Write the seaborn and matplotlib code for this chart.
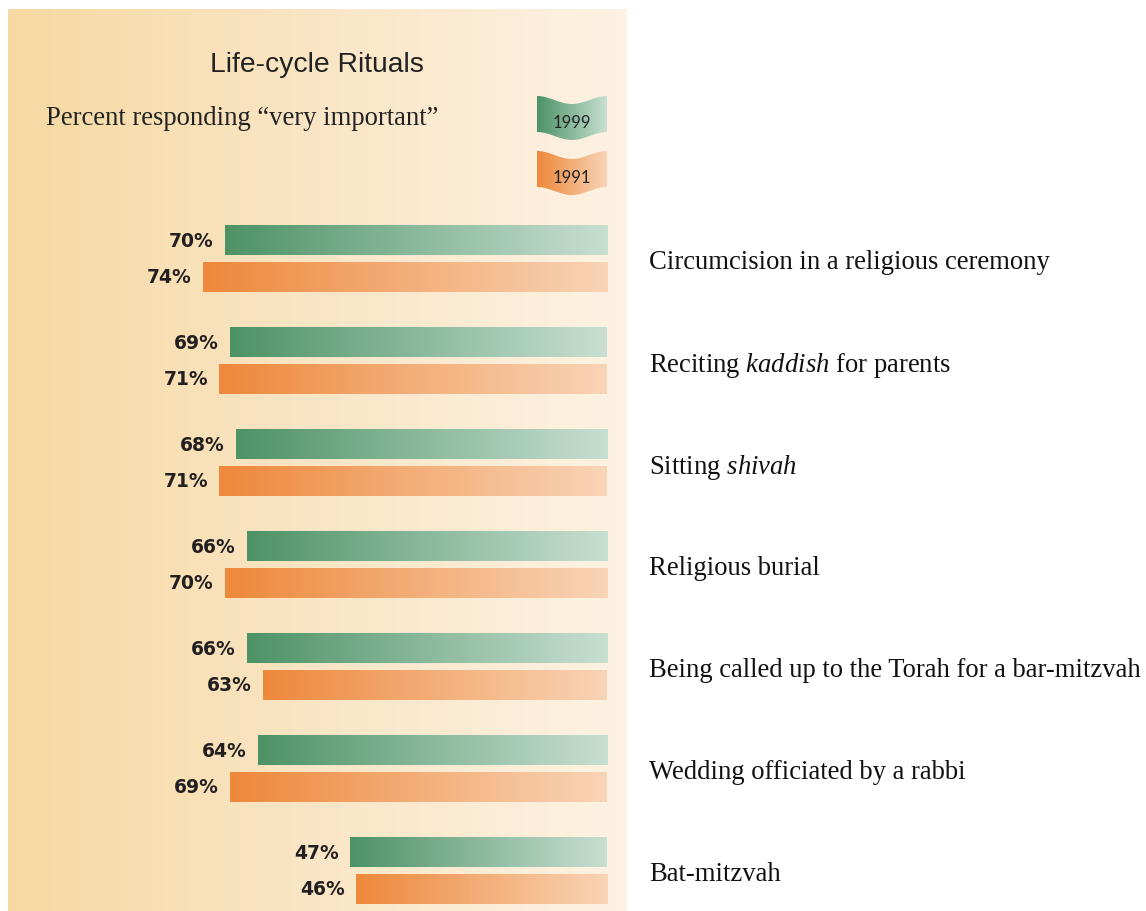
import numpy as np
import pandas as pd
import matplotlib.pyplot as plt
import seaborn as sns
from matplotlib.colors import LinearSegmentedColormap
from matplotlib.patches import Polygon

# data
rituals = ["Circumcision in a religious ceremony",
           "Reciting kaddish for parents",
           "Sitting shivah",
           "Religious burial",
           "Being called up to the Torah for a bar-mitzvah",
           "Wedding officiated by a rabbi",
           "Bat-mitzvah"]
ritual_labels = ["Circumcision in a religious ceremony",
                 r"Reciting $\mathit{kaddish}$ for parents",
                 r"Sitting $\mathit{shivah}$",
                 "Religious burial",
                 "Being called up to the Torah for a bar-mitzvah",
                 "Wedding officiated by a rabbi",
                 "Bat-mitzvah"]
pct_1999 = [70, 69, 68, 66, 66, 64, 47]
pct_1991 = [74, 71, 71, 70, 63, 69, 46]
years = ["1999", "1991"]

df = pd.DataFrame({
    "ritual": rituals * 2,
    "year": [years[0]] * len(rituals) + [years[1]] * len(rituals),
    "percent": pct_1999 + pct_1991,
})

sns.set_style("white")
plt.rcParams["mathtext.fontset"] = "custom"
plt.rcParams["mathtext.rm"] = "Liberation Serif"
plt.rcParams["mathtext.it"] = "Liberation Serif:italic"

green_cmap = LinearSegmentedColormap.from_list("g", ["#4d9366", "#c8dfd1"])
orange_cmap = LinearSegmentedColormap.from_list("o", ["#ee883b", "#f9d4b6"])
bg_cmap = LinearSegmentedColormap.from_list("bg", ["#f6d9a2", "#fae6c6", "#fdf2e3"])

W, H = 1146, 912
fig = plt.figure(figsize=(W / 100, H / 100), dpi=100)
px_l, px_r, px_t, px_b = 8, 627, 10, 912
ax = fig.add_axes([px_l / W, 1 - px_b / H, (px_r - px_l) / W, (px_b - px_t) / H])

# background wash of the panel
ax.imshow(np.linspace(0, 1, 256).reshape(1, -1), cmap=bg_cmap, aspect="auto",
          extent=[0, 1, 0, 1], transform=ax.transAxes, zorder=0)

sns.barplot(data=df, x="percent", y="ritual", hue="year", hue_order=years,
            palette=["#4d9366", "#ee883b"], orient="h", width=0.72, gap=0.2,
            legend=False, ax=ax, zorder=2)

grad = np.linspace(0, 1, 256).reshape(1, -1)
for cont, cmap, vals in zip(ax.containers, [green_cmap, orange_cmap], [pct_1999, pct_1991]):
    for bar, v in zip(cont, vals):
        x0, w = bar.get_x(), bar.get_width()
        y0, h = bar.get_y(), bar.get_height()
        ax.imshow(grad, cmap=cmap, aspect="auto", extent=[x0 + w, x0, y0 + h, y0], zorder=3)
        bar.set_facecolor("none")
        bar.set_edgecolor("none")
        ax.annotate(f"{v}%", xy=(x0 + w, y0 + h / 2), xytext=(-8, 0),
                    textcoords="offset points", ha="right", va="center",
                    fontsize=13.5, fontweight="bold", color="#231f20",
                    family="DejaVu Sans", zorder=4)

# scale: 0% at x=607px, 5.46 px per percent
zero_px, px_per = 607, 5.46
ax.set_xlim((zero_px - px_l) / px_per, (zero_px - px_r) / px_per)
c0_px, step_px = 259.5, 102.0
ax.set_ylim((px_b - c0_px) / step_px, (px_t - c0_px) / step_px)

ax.yaxis.tick_right()
ax.set_yticks(range(len(rituals)))
ax.set_yticklabels(ritual_labels, family="Liberation Serif", fontsize=19.2, color="#111")
ax.tick_params(axis="y", length=0, pad=16)
ax.set_xticks([])
ax.set_xlabel("")
ax.set_ylabel("")
for s in ax.spines.values():
    s.set_visible(False)


def to_ax(px, py):
    return ((px - px_l) / (px_r - px_l), 1 - (py - px_t) / (px_b - px_t))


def flag(left, right, top, bottom, cmap, label):
    t = np.linspace(0, 1, 60)
    xs = left + (right - left) * t
    wave = 4 * np.cos(2 * np.pi * t)
    top_pts = [to_ax(x, top + 4 - w) for x, w in zip(xs, wave)]
    bot_pts = [to_ax(x, bottom - 4 - w) for x, w in zip(xs[::-1], wave[::-1])]
    poly = Polygon(top_pts + bot_pts, closed=True, transform=ax.transAxes,
                   facecolor="none", edgecolor="none")
    ax.add_patch(poly)
    (ax0, ay1), (ax1, ay0) = to_ax(left, top), to_ax(right, bottom)
    im = ax.imshow(grad, cmap=cmap, aspect="auto", extent=[ax0, ax1, ay0, ay1],
                   transform=ax.transAxes, zorder=3)
    im.set_clip_path(poly)
    cx, cy = to_ax((left + right) / 2, (top + bottom) / 2 + 4)
    ax.text(cx, cy, label, transform=ax.transAxes, ha="center", va="center",
            fontsize=12, family="Lato", color="#222", zorder=4)


flag(537, 607, 97, 141, green_cmap, "1999")
flag(537, 607, 152, 196, orange_cmap, "1991")

fig.text(317 / W, 1 - 65 / H, "Life-cycle Rituals", ha="center", va="center",
         fontsize=20.3, family="Liberation Sans", color="#222")
fig.text(46 / W, 1 - 119 / H, "Percent responding \u201cvery important\u201d",
         ha="left", va="center", fontsize=19.2, family="Liberation Serif", color="#222")

fig.savefig("out.png", dpi=100)
